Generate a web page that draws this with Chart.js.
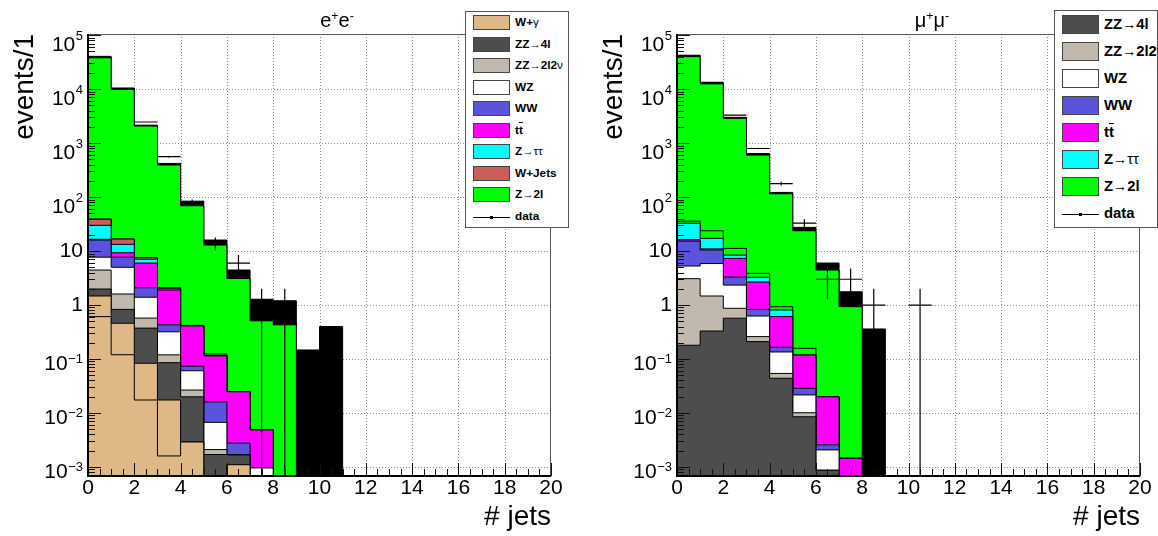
<!DOCTYPE html>
<html>
<head>
<meta charset="utf-8">
<title>Jet multiplicity</title>
<script src="https://cdn.jsdelivr.net/npm/chart.js@4.4.1/dist/chart.umd.min.js"></script>
<style>
  html, body { margin: 0; padding: 0; background: #fff; }
  body { position: relative; width: 1158px; height: 536px; overflow: hidden;
         font-family: "Liberation Sans", Arial, Helvetica, sans-serif; }
  .panel { position: absolute; top: 0; width: 569px; height: 536px; }
  .panel canvas { position: absolute; left: 0; top: 0; }
  .title { position: absolute; top: 10px; font-size: 20px; line-height: 20px;
           transform: translateX(-50%); white-space: nowrap; color: #000; }
  .title sup { font-size: 62%; vertical-align: 0.55em; line-height: 0; }
  .legend { position: absolute; background: #fff; border: 1px solid #555; box-sizing: border-box; }
  .legend .row { position: absolute; left: 0; right: 0; }
  .legend .sw { position: absolute; left: 7px; width: 37px; box-sizing: border-box; border: 1px solid #444; }
  .legend .txt { position: absolute; left: 49px; font-weight: bold; white-space: nowrap; color: #000; }
  .legend .arr, .legend .gr { font-weight: normal; }
  .legend .arr { font-size: 95%; }
  .legend .bar { text-decoration: overline; }
  .legend .line { position: absolute; left: 7px; width: 37px; height: 0; border-top: 1px solid #000; }
  .legend .dot { position: absolute; left: 24px; width: 3px; height: 3px; background: #000; }
</style>
</head>
<body>
<div class="panel" style="left:0px">
  <canvas id="chartEE" width="569" height="536"></canvas>
  <div class="title" style="left:337px">e<sup>+</sup>e<sup>-</sup></div>
  <div class="legend" id="legendEE"></div>
</div>
<div class="panel" style="left:589px">
  <canvas id="chartMM" width="569" height="536"></canvas>
  <div class="title" style="left:343px">μ<sup>+</sup>μ<sup>-</sup></div>
  <div class="legend" id="legendMM"></div>
</div>
<script>
// binning and axis ranges
const nBins = 20;
const xMax = 20;
const xLabelStep = 2;
const yMin = 6.8e-4;
const yMax = 1.05e5;
const yDecades = [-3, -2, -1, 0, 1, 2, 3, 4, 5];

// e+e- channel, events per jet-multiplicity bin (bin 0 = 0 jets)
const eeWgammaLow = [0.61, 0.12, 0.0174, 0.0016, 0.0029, 0, 0.0011];
const eeWgamma    = [0.86, 0.34, 0.066, 0.0158];
const eeZZ4l      = [0.51, 0.37, 0.29, 0.068, 0.017, 0.0017, 0.00057];
const eeZZ2l2nu   = [2.47, 0.77, 0.20, 0.034, 0.0067, 0.0004];
const eeWZ        = [3.25, 3.4, 0.82, 0.20, 0.034, 0.0046, 0, 0.00096];
const eeWW        = [8.3, 2.7, 0.70, 0.11, 0.013, 0.0093, 0.0011];
const eeTT        = [0.5, 1.6, 3.9, 1.47, 0.336, 0.098, 0.022, 0.0039];
const eeZtautau   = [13.5, 4.0, 1.1, 0.1];
const eeWjets     = [9, 3.4, 0.5, 0.09];
const eeZ2lLow    = [0, 0, 0, 0, 0.01, 0.01];
const eeZ2l       = [37960, 9883, 2062, 390, 68.6, 12.78, 3.08, 0.505, 0.43];
const eeUnc       = [2500, 600, 80, 28, 15, 3.1, 1.35, 0.77, 0.77, 0.147, 0.40];
const eeData      = [38600, 10000, 2460, 560, 81, 14, 6, 1, 1];

// mu+mu- channel
const mmZZ4l      = [0.18, 0.33, 0.57, 0.21, 0.044, 0.0085, 0.00087];
const mmZZ2l2nu   = [2.9, 1.14, 0.30, 0.05, 0.010, 0.0016];
const mmWZ        = [2.2, 4.4, 1.47, 0.365, 0.081, 0.0115, 0.0012];
const mmWW        = [10, 4.6, 0.96, 0.205, 0.030, 0.007, 0.0005];
const mmTT        = [1.0, 0.5, 4.0, 1.84, 0.445, 0.090, 0.0174, 0.00145];
const mmZtautau   = [16.5, 6.2, 1.1, 0.59, 0.20];
const mmZ2lLow    = [3, 6.6, 2.8, 0.6, 0.12, 0.039];
const mmZ2l       = [39960, 12480, 2860, 596, 114, 23.6, 4.43, 0.93];
const mmUnc       = [2500, 500, 130, 40, 7, 3.7, 1.55, 0.83, 0.36];
const mmData      = [41500, 13300, 3300, 795, 178, 33, 3, 3, 1, 0, 1];

// fill colours
const colWgamma = '#deb887';
const colZZ4l = '#4d4d4d';
const colZZ2l2nu = '#c1b9ae';
const colWZ = '#ffffff';
const colWW = '#5a53dc';
const colTT = '#ff00ff';
const colZtautau = '#00ffff';
const colWjets = '#cd5c5c';
const colZ2l = '#00ff00';
const colUnc = '#000000';

const FLOOR = 1e-6; // empty bins sit below the axis minimum

function pad(arr) {
  return Array.from({ length: nBins }, (_, i) => arr[i] || 0);
}

function layer(label, values, color, inLegend) {
  return { label, values: pad(values), color, inLegend };
}

// stacks, bottom to top
const eeLayers = [
  layer('W+γ', eeWgammaLow, colWgamma, false),
  layer('W+γ', eeWgamma, colWgamma, true),
  layer('ZZ→4l', eeZZ4l, colZZ4l, true),
  layer('ZZ→2l2ν', eeZZ2l2nu, colZZ2l2nu, true),
  layer('WZ', eeWZ, colWZ, true),
  layer('WW', eeWW, colWW, true),
  layer('tt\u0304', eeTT, colTT, true),
  layer('Z→ττ', eeZtautau, colZtautau, true),
  layer('W+Jets', eeWjets, colWjets, true),
  layer('Z→2l', eeZ2lLow, colZ2l, false),
  layer('Z→2l', eeZ2l, colZ2l, true),
  layer('MC uncertainty', eeUnc, colUnc, false)
];

const mmLayers = [
  layer('ZZ→4l', mmZZ4l, colZZ4l, true),
  layer('ZZ→2l2ν', mmZZ2l2nu, colZZ2l2nu, true),
  layer('WZ', mmWZ, colWZ, true),
  layer('WW', mmWW, colWW, true),
  layer('tt\u0304', mmTT, colTT, true),
  layer('Z→ττ', mmZtautau, colZtautau, true),
  layer('Z→2l', mmZ2lLow, colZ2l, false),
  layer('Z→2l', mmZ2l, colZ2l, true),
  layer('MC uncertainty', mmUnc, colUnc, false)
];

// running sums of the stack, one array per layer
function cumulate(layers) {
  let run = new Array(nBins).fill(0);
  return layers.map(l => {
    run = run.map((v, i) => v + l.values[i]);
    return run.slice();
  });
}

// histogram outline: one point per low bin edge, drawn as a step
function stepPoints(level) {
  const pts = level.map((v, i) => ({ x: i, y: v > 0 ? v : FLOOR }));
  pts.push({ x: nBins, y: FLOOR });
  return pts;
}

// data: bin-wide horizontal bar plus sqrt(N) vertical error
function errorBarPoints(counts) {
  const pts = [];
  counts.forEach((n, b) => {
    if (!n) return;
    const err = Math.sqrt(n);
    pts.push({ x: b, y: n }, { x: b + 1, y: n }, { x: b + 1, y: null });
    pts.push({ x: b + 0.5, y: n + err }, { x: b + 0.5, y: Math.max(n - err, FLOOR) }, { x: b + 0.5, y: null });
  });
  return pts;
}

// ROOT style frame: dotted grid, inward ticks, 10^n labels
const rootAxes = {
  id: 'rootAxes',
  beforeDatasetsDraw(chart) {
    const { ctx, chartArea: a, scales: { x, y } } = chart;
    ctx.save();
    ctx.strokeStyle = '#8c8c8c';
    ctx.lineWidth = 1;
    ctx.setLineDash([1, 2]);
    ctx.beginPath();
    for (let v = xLabelStep; v < xMax; v += xLabelStep) {
      const px = Math.round(x.getPixelForValue(v)) + 0.5;
      ctx.moveTo(px, a.top);
      ctx.lineTo(px, a.bottom);
    }
    yDecades.forEach(d => {
      const py = Math.round(y.getPixelForValue(Math.pow(10, d))) + 0.5;
      if (py > a.top + 2 && py < a.bottom) {
        ctx.moveTo(a.left, py);
        ctx.lineTo(a.right, py);
      }
    });
    ctx.stroke();
    ctx.restore();
  },
  afterDatasetsDraw(chart) {
    const { ctx, chartArea: a, scales: { x, y } } = chart;
    ctx.save();
    ctx.strokeStyle = '#111';
    ctx.lineWidth = 1;
    ctx.beginPath();
    for (let v = 0; v <= xMax; v += 0.5) {
      const px = Math.round(x.getPixelForValue(v)) + 0.5;
      const len = v % xLabelStep === 0 ? 13 : 7;
      ctx.moveTo(px, a.bottom);
      ctx.lineTo(px, a.bottom - len);
    }
    for (let d = yDecades[0] - 1; d <= yDecades[yDecades.length - 1]; d++) {
      for (let k = 1; k <= 9; k++) {
        const v = k * Math.pow(10, d);
        if (v < yMin || v > yMax) continue;
        const py = Math.round(y.getPixelForValue(v)) + 0.5;
        ctx.moveTo(a.left, py);
        ctx.lineTo(a.left + (k === 1 ? 13 : 7), py);
      }
    }
    ctx.stroke();

    // frame
    ctx.strokeStyle = '#555';
    ctx.beginPath();
    ctx.moveTo(a.left, a.top + 0.5);
    ctx.lineTo(a.right - 0.5, a.top + 0.5);
    ctx.lineTo(a.right - 0.5, a.bottom);
    ctx.stroke();
    ctx.strokeStyle = '#000';
    ctx.lineWidth = 2;
    ctx.beginPath();
    ctx.moveTo(a.left, a.top);
    ctx.lineTo(a.left, a.bottom);
    ctx.lineTo(a.right, a.bottom);
    ctx.stroke();

    // y tick labels with superscript exponents
    const baseFont = '21px "Liberation Sans", Arial, sans-serif';
    const expFont = '13px "Liberation Sans", Arial, sans-serif';
    const xr = a.left - 5;
    ctx.fillStyle = '#000';
    ctx.textAlign = 'right';
    ctx.textBaseline = 'middle';
    yDecades.forEach(d => {
      const py = y.getPixelForValue(Math.pow(10, d));
      if (d === 0 || d === 1) {
        ctx.font = baseFont;
        ctx.fillText(d === 0 ? '1' : '10', xr, py);
        return;
      }
      const exp = (d < 0 ? '\u2212' : '') + Math.abs(d);
      ctx.font = expFont;
      const ew = ctx.measureText(exp).width;
      ctx.fillText(exp, xr, py + (d > 0 ? 1.5 : 0));
      ctx.font = baseFont;
      ctx.fillText('10', xr - ew - 0.5, py + (d > 0 ? 10 : 5));
    });
    ctx.restore();
  }
};

Chart.defaults.font.family = '"Liberation Sans", Arial, Helvetica, sans-serif';

function makeChart(canvasId, layers, counts) {
  const levels = cumulate(layers);
  const datasets = [{
    label: 'data',
    data: errorBarPoints(counts),
    borderColor: '#000',
    borderWidth: 1.2,
    pointRadius: 0,
    fill: false,
    spanGaps: false,
    tension: 0
  }];
  layers.forEach((l, i) => datasets.push({
    label: l.label,
    data: stepPoints(levels[i]),
    stepped: true,
    fill: 'start',
    backgroundColor: l.color,
    borderColor: '#000',
    borderWidth: 1,
    pointRadius: 0,
    tension: 0
  }));

  return new Chart(document.getElementById(canvasId), {
    type: 'line',
    data: { datasets },
    options: {
      responsive: false,
      animation: false,
      devicePixelRatio: 1,
      events: [],
      layout: { padding: { left: 0, right: 18, top: 34, bottom: 0 } },
      plugins: { legend: { display: false }, tooltip: { enabled: false } },
      scales: {
        x: {
          type: 'linear', min: 0, max: xMax,
          ticks: { stepSize: xLabelStep, color: '#000', font: { size: 21 }, padding: 0, maxRotation: 0, autoSkip: false },
          grid: { display: false, drawTicks: false },
          border: { display: false },
          title: { display: true, text: '# jets', align: 'end', color: '#000', font: { size: 28 }, padding: { top: 0, bottom: 2 } },
          afterFit: s => { s.height = 60; }
        },
        y: {
          type: 'logarithmic', min: yMin, max: yMax,
          ticks: { display: false },
          grid: { display: false, drawTicks: false },
          border: { display: false },
          title: { display: true, text: 'events/1', align: 'end', color: '#000', font: { size: 28 }, padding: { top: 8, bottom: 0 } },
          afterFit: s => { s.width = 88; }
        }
      }
    },
    plugins: [rootAxes]
  });
}

function labelHtml(text) {
  return text
    .replace('tt\u0304', 't<span class="bar">t</span>')
    .replace(/→/g, '<span class="arr">→</span>')
    .replace(/([γντ])/g, '<span class="gr">$1</span>');
}

// legend box in the ROOT layout, entries spread evenly over its height
function buildLegend(id, layers, box) {
  const el = document.getElementById(id);
  Object.assign(el.style, {
    left: box.left + 'px', top: box.top + 'px',
    width: box.width + 'px', height: box.height + 'px'
  });
  const entries = layers.filter(l => l.inLegend);
  const n = entries.length + 1;
  const h = (box.height - 2) / n;
  const sh = 0.72 * h;
  const fs = 0.55 * h;
  entries.forEach((l, i) => {
    const row = document.createElement('div');
    row.className = 'row';
    row.style.top = (i * h) + 'px';
    row.style.height = h + 'px';
    row.innerHTML =
      `<div class="sw" style="top:${(h - sh) / 2}px;height:${sh}px;background:${l.color}"></div>` +
      `<div class="txt" style="top:0;line-height:${h}px;font-size:${fs}px">${labelHtml(l.label)}</div>`;
    el.appendChild(row);
  });
  const row = document.createElement('div');
  row.className = 'row';
  row.style.top = ((n - 1) * h) + 'px';
  row.style.height = h + 'px';
  row.innerHTML =
    `<div class="line" style="top:${Math.round(h / 2)}px"></div>` +
    `<div class="dot" style="top:${Math.round(h / 2) - 1}px"></div>` +
    `<div class="txt" style="top:0;line-height:${h}px;font-size:${fs}px">data</div>`;
  el.appendChild(row);
}

makeChart('chartEE', eeLayers, eeData);
makeChart('chartMM', mmLayers, mmData);
buildLegend('legendEE', eeLayers, { left: 465, top: 11, width: 104, height: 217 });
buildLegend('legendMM', mmLayers, { left: 465, top: 10, width: 104, height: 218 });
</script>
</body>
</html>
